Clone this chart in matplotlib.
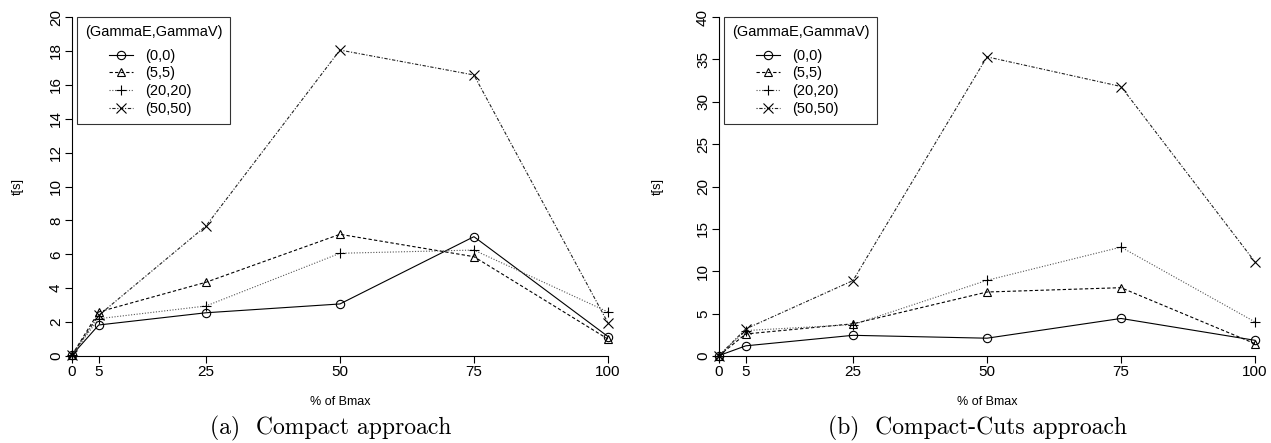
import matplotlib
matplotlib.use("Agg")
import matplotlib.pyplot as plt
from matplotlib.legend_handler import HandlerLine2D
from matplotlib.lines import Line2D

plt.rcParams["font.family"] = ["Liberation Sans", "DejaVu Sans"]

budget = [0, 5, 25, 50, 75, 100]
series_labels = ["(0,0)", "(5,5)", "(20,20)", "(50,50)"]

compact = {
    "(0,0)": [0.05, 1.83, 2.55, 3.07, 7.04, 1.15],
    "(5,5)": [0.05, 2.6, 4.35, 7.18, 5.86, 1.0],
    "(20,20)": [0.05, 2.2, 2.95, 6.06, 6.25, 2.6],
    "(50,50)": [0.05, 2.4, 7.67, 18.05, 16.58, 1.96],
}
compact_cuts = {
    "(0,0)": [0.05, 1.2, 2.44, 2.1, 4.43, 1.85],
    "(5,5)": [0.05, 2.6, 3.8, 7.55, 8.06, 1.45],
    "(20,20)": [0.05, 3.0, 3.7, 8.93, 12.85, 4.02],
    "(50,50)": [0.05, 3.2, 8.9, 35.3, 31.8, 11.1],
}

styles = {
    "(0,0)": dict(ls="-", marker="o", color="black"),
    "(5,5)": dict(ls=(0, (3, 2)), marker="^", color="black"),
    "(20,20)": dict(ls=(0, (1, 1.5)), marker="+", color="#555555"),
    "(50,50)": dict(ls=(0, (1, 1.5, 3, 1.5)), marker="x", color="#222222"),
}


def draw_panel(ax, data, ymax, ystep, caption, cap_x, ylab_x):
    handles = []
    for name in series_labels:
        st = styles[name]
        line, = ax.plot(budget, data[name], linestyle=st["ls"], color=st["color"],
                        lw=0.8, marker=st["marker"],
                        ms=7 if st["marker"] in "+x" else 6,
                        mfc="none", mec="black", mew=0.8, label=name, clip_on=False)
        handles.append(line)
    ax.set_xlim(0, 100)
    ax.set_ylim(0, ymax)
    ax.set_xticks(budget)
    ax.set_yticks(range(0, ymax + 1, ystep))
    ax.tick_params(axis="y", labelrotation=90, length=5, width=0.8, labelsize=11, pad=1.5)
    ax.tick_params(axis="x", length=5, width=0.8, labelsize=11, pad=1.5)
    for lab in ax.get_yticklabels():
        lab.set_va("center")
    ax.spines["top"].set_visible(False)
    ax.spines["right"].set_visible(False)
    ax.spines["left"].set_linewidth(0.8)
    ax.spines["bottom"].set_linewidth(0.8)
    ax.set_xlabel("% of Bmax", fontsize=9)
    ax.xaxis.set_label_coords(0.5, -0.118)
    ax.set_ylabel("t[s]", fontsize=9)
    ax.yaxis.set_label_coords(ylab_x, 0.5)

    fs = 10.5
    leg = ax.legend(handles=handles, title="(GammaE,GammaV)", loc="upper left",
                    bbox_to_anchor=(0.009, 1.0), fancybox=False, edgecolor="black",
                    fontsize=fs, title_fontsize=fs, handlelength=3.3,
                    borderaxespad=0, labelspacing=0.25, alignment="left",
                    borderpad=0.55, handletextpad=0.85,
                    handler_map={Line2D: HandlerLine2D(xpad=1.65)})
    leg.get_frame().set_linewidth(0.8)
    leg._legend_box.sep = 7
    ax.figure.text(cap_x, 0.032, caption, ha="center", va="center",
                   family="cmr10", fontsize=17)


fig = plt.figure(figsize=(12.71, 4.43), dpi=100)
ax1 = fig.add_axes([0.0566, 0.1964, 0.4217, 0.7652])
ax2 = fig.add_axes([0.5657, 0.1964, 0.4217, 0.7652])

draw_panel(ax1, compact, 20, 2, "(a)  Compact approach", 331 / 1271, -0.0896)
draw_panel(ax2, compact_cuts, 40, 5, "(b)  Compact-Cuts approach", 977 / 1271, -0.1026)

fig.savefig("out.png", dpi=100)
